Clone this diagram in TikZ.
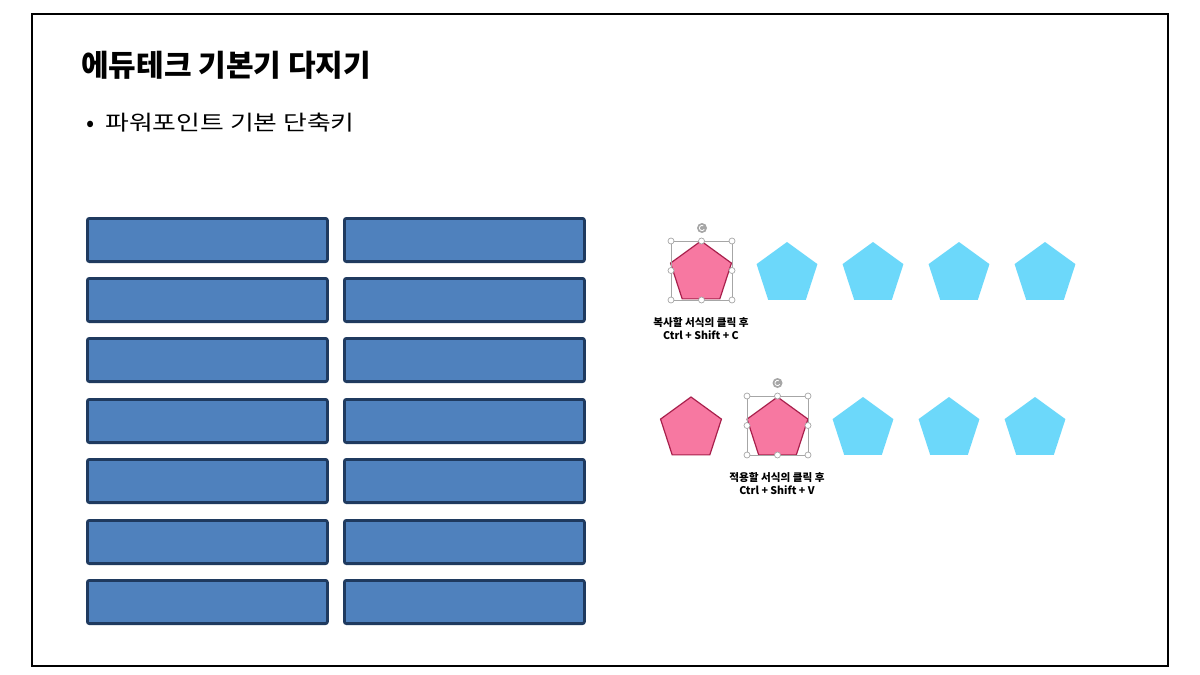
\documentclass[tikz,border=0pt]{standalone}
\usepackage{fontspec}
\setmainfont{Noto Sans CJK KR}
\newfontfamily\kr{Noto Sans CJK KR}
\newfontfamily\krwide[FakeStretch=1.23]{Noto Sans CJK KR}
\usetikzlibrary{shapes.geometric}
\definecolor{boxfill}{HTML}{4F81BD}
\definecolor{boxline}{HTML}{1F3A5F}
\definecolor{pinkfill}{HTML}{F778A1}
\definecolor{pinkline}{HTML}{A8204C}
\definecolor{cyanfill}{HTML}{6CD8FA}
\definecolor{handle}{HTML}{A6A6A6}
\tikzset{
  bar/.style={draw=boxline, fill=boxfill, line width=1.4pt, rounded corners=1pt, minimum width=120pt, minimum height=21.6pt, inner sep=0pt, anchor=north west},
  pent/.style={regular polygon, regular polygon sides=5, minimum size=32pt, inner sep=0pt, outer sep=0pt},
  pinkpent/.style={pent, draw=pinkline, fill=pinkfill, line width=0.6pt},
  cyanpent/.style={pent, fill=cyanfill},
  selbox/.style={draw=handle, line width=0.35pt},
  hdl/.style={circle, draw=handle, fill=white, line width=0.35pt, minimum size=3pt, inner sep=0pt},
  rot/.style={circle, fill=handle, minimum size=5pt, inner sep=0pt},
  lbl/.style={font=\kr\bfseries\fontsize{5.3}{6}\selectfont, align=center, inner sep=0pt}
}
\begin{document}
\begin{tikzpicture}[x=0.5pt, y=-0.5pt]
\useasboundingbox (0,0) rectangle (1200,675);
\fill[white] (0,0) rectangle (1200,675);
\draw[line width=1.1pt] (32,14) rectangle (1168,666);
% title
\node[anchor=base west, inner sep=0pt, font=\kr\bfseries\fontsize{15}{18}\selectfont] (title) at (81,76) {에듀테크 기본기 다지기};
\node[anchor=base west, inner sep=0pt, font=\kr\fontsize{12}{13}\selectfont] (dot) at (86.5,131) {•};
\node[anchor=base west, inner sep=0pt, font=\krwide\fontsize{10.5}{13}\selectfont] (bullet) at (105,130) {파워포인트 기본 단축키};
% bars
\foreach \i/\y in {1/217,2/277,3/337,4/398,5/458,6/519,7/579}{
  \node[bar] (L\i) at (86,\y) {};
  \node[bar] (R\i) at (343,\y) {};
}
% top row pentagons
\node[pinkpent] (p1) at (701,273) {};
\foreach \n/\x in {2/787,3/873,4/959,5/1045}{
  \node[cyanpent] (p\n) at (\x,274) {};
}
% selection for p1
\draw[selbox] (671,241) rectangle (732,300);
\foreach \x/\y in {671/241,701.5/241,732/241,671/270.5,732/270.5,671/300,701.5/300,732/300}{
  \node[hdl] at (\x,\y) {};
}
\node[rot] (r1) at (702,228) {};
\draw[white, line width=0.4pt] (r1.center) ++(60:1.3pt) arc (60:330:1.3pt);
\node[lbl] (t1) at (701,328.5) {복사할 서식의 클릭 후\\[0.5pt]Ctrl + Shift + C};
% bottom row pentagons
\node[pinkpent] (q1) at (691,429) {};
\node[pinkpent] (q2) at (777.5,429) {};
\foreach \n/\x in {3/863,4/949,5/1035}{
  \node[cyanpent] (q\n) at (\x,429) {};
}
\draw[selbox] (747,396) rectangle (808,455);
\foreach \x/\y in {747/396,777.5/396,808/396,747/425.5,808/425.5,747/455,777.5/455,808/455}{
  \node[hdl] at (\x,\y) {};
}
\node[rot] (r2) at (777.5,383) {};
\draw[white, line width=0.4pt] (r2.center) ++(60:1.3pt) arc (60:330:1.3pt);
\node[lbl] (t2) at (777,483.5) {적용할 서식의 클릭 후\\[0.5pt]Ctrl + Shift + V};
\end{tikzpicture}
\end{document}
